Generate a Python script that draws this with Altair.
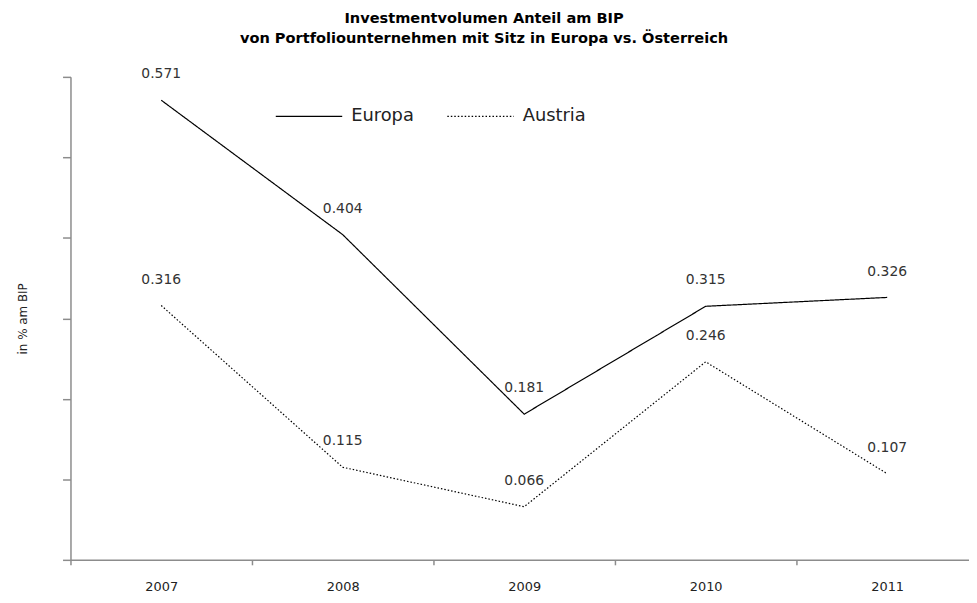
import altair as alt
import pandas as pd

years = ["2007", "2008", "2009", "2010", "2011"]
europa = [0.571, 0.404, 0.181, 0.315, 0.326]
austria = [0.316, 0.115, 0.066, 0.246, 0.107]
series_names = ["Europa", "Austria"]
y_ticks = [0, 0.1, 0.2, 0.3, 0.4, 0.5, 0.6]

rows = []
for name, vals in zip(series_names, [europa, austria]):
    for i, (yr, v) in enumerate(zip(years, vals)):
        rows.append({"Jahr": yr, "Pos": i + 0.5, "Serie": name, "Wert": v,
                     "Label": f"{v:.3f}"})
df = pd.DataFrame(rows)

FONT = "DejaVu Sans"
AXIS_COLOR = "#8c8c8c"
TEXT_COLOR = "#222222"

PLOT_W = 906
BAND = 183.0
year_expr = "[" + ",".join(f"'{yv}'" for yv in years) + "][datum.value]"

x = alt.X(
    "Pos:Q",
    scale=alt.Scale(domain=[0, PLOT_W / BAND], nice=False, zero=False),
    axis=alt.Axis(
        title=None, values=list(range(len(years))), labelExpr=year_expr,
        labelOffset=BAND / 2, labelAlign="center", labelAngle=0, labelFlush=False,
        labelOverlap=False, grid=False, tickSize=5, labelPadding=16,
        labelFontSize=13, labelColor=TEXT_COLOR, labelFont=FONT,
        domainColor=AXIS_COLOR, tickColor=AXIS_COLOR, domainWidth=1.5, tickWidth=1.5,
    ),
)
y = alt.Y(
    "Wert:Q",
    scale=alt.Scale(domain=[0, 0.6], nice=False, zero=True),
    axis=alt.Axis(
        title="in % am BIP", values=y_ticks, labels=False, grid=False, tickSize=8,
        titlePadding=33, titleFont=FONT, titleFontSize=12, titleFontWeight="normal",
        titleColor=TEXT_COLOR, domainColor=AXIS_COLOR, tickColor=AXIS_COLOR,
        domainWidth=1.5, tickWidth=1.5,
    ),
)

lines = alt.Chart(df).mark_line(color="black", strokeWidth=1.2).encode(
    x=x,
    y=y,
    strokeDash=alt.StrokeDash(
        "Serie:N",
        sort=series_names,
        scale=alt.Scale(domain=series_names, range=[[1, 0], [1.5, 2]]),
        legend=alt.Legend(
            title=None, orient="none", legendX=206, legendY=5, direction="horizontal",
            symbolType="stroke", symbolSize=4489, symbolStrokeColor="black",
            symbolStrokeWidth=1.2, labelFontSize=18, labelFont=FONT,
            labelColor=TEXT_COLOR, columnPadding=30, labelOffset=8,
        ),
    ),
    detail="Serie:N",
    order="Pos:Q",
)

labels = alt.Chart(df).mark_text(
    dy=-26, fontSize=14, font=FONT, color="#333333"
).encode(x=x, y=y, text="Label:N")

chart = alt.layer(lines, labels).properties(
    width=PLOT_W,
    height=487,
    autosize=alt.AutoSizeParams(type="none"),
    padding={"left": 63, "top": 67, "right": 0, "bottom": 32},
    title=alt.Title(
        ["Investmentvolumen Anteil am BIP",
         "von Portfoliounternehmen mit Sitz in Europa vs. Österreich"],
        fontSize=14.7, font=FONT, fontWeight="bold", anchor="middle", color="black",
        lineHeight=20, offset=22, dx=-36,
    ),
).configure_view(stroke=None)

chart.save("out.html", embed_options={"renderer": "svg", "actions": False})
